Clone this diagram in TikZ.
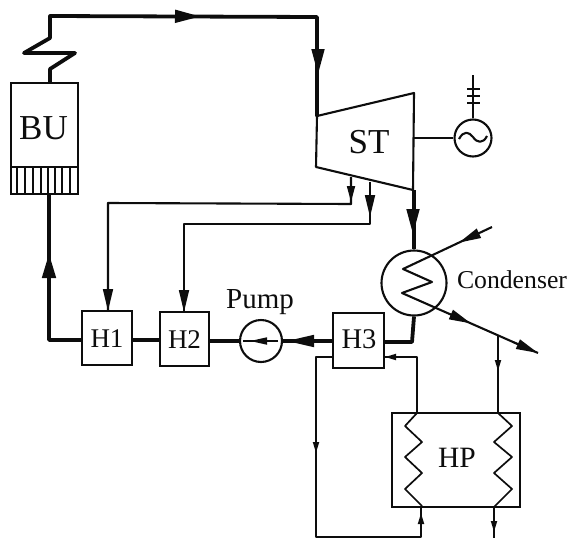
\documentclass[tikz,border=0pt]{standalone}
\usepackage{fontspec}
\setmainfont{Liberation Serif}
\usetikzlibrary{arrows.meta}
\definecolor{ink}{gray}{0.05}
\tikzset{
  every path/.style={color=ink},
  every node/.style={text=ink},
  thickpipe/.style={line width=3.8pt,line join=round},
  midpipe/.style={line width=2.1pt,line join=round},
  thinpipe/.style={line width=1.7pt,line join=round},
  box/.style={draw,line width=2.2pt,inner sep=0pt,rectangle},
  ring/.style={draw,line width=2.1pt,inner sep=0pt,circle},
  lab/.style={inner sep=0pt},
  bighead/.style={-{Triangle[length=25pt,width=13pt]}},
  midhead/.style={-{Triangle[length=22pt,width=10pt]}},
  smallhead/.style={-{Triangle[length=16pt,width=8pt]}},
  tinyhead/.style={-{Triangle[length=11pt,width=6pt]}},
}
\begin{document}
\begin{tikzpicture}[x=1pt,y=-1pt]
\useasboundingbox (0,0) rectangle (569,538);
% nodes
\node[box,minimum width=67pt,minimum height=111pt] (BU) at (44.5,138.5) {};
\node[lab,font=\fontsize{35}{35}\selectfont] (BUt) at (43.5,128) {BU};
\node[box,minimum width=50pt,minimum height=54pt] (H1) at (107,338) {};
\node[lab,font=\fontsize{27}{27}\selectfont] (H1t) at (107,339) {H1};
\node[box,minimum width=49pt,minimum height=54pt] (H2) at (184.5,339) {};
\node[lab,font=\fontsize{27}{27}\selectfont] (H2t) at (184.5,340) {H2};
\node[box,minimum width=51pt,minimum height=55pt] (H3) at (358.5,340.5) {};
\node[lab,font=\fontsize{28.5}{28.5}\selectfont] (H3t) at (359,339) {H3};
\node[box,minimum width=128pt,minimum height=94pt] (HP) at (456,460) {};
\node[lab,font=\fontsize{29.5}{29.5}\selectfont] (HPt) at (457,458) {HP};
\node[ring,minimum size=42pt] (P) at (261,341) {};
\node[lab,font=\fontsize{29}{29}\selectfont] (Pt) at (260,302) {Pump};
\node[ring,minimum size=37pt] (G) at (473,138) {};
\node[ring,minimum size=65pt] (C) at (414,283) {};
\node[lab,font=\fontsize{25.7}{25.7}\selectfont] (Ct) at (512,280) {Condenser};
\node[lab,font=\fontsize{35}{35}\selectfont] (STt) at (369,142) {ST};
% turbine
\coordinate (s1) at (317,116);
\coordinate (s2) at (414,93);
\coordinate (s3) at (413,190);
\coordinate (s4) at (316,167);
\draw[midpipe] (s1) -- (s2) -- (s3) -- (s4) -- cycle;
% boiler grate
\coordinate (gl) at (11,167);
\coordinate (gr) at (78,167);
\draw[midpipe] (gl) -- (gr);
\foreach \xx in {17,25,33,41,48,55,62,70} \draw[line width=1.3pt] (\xx,167) -- (\xx,194);
% live steam
\draw[thickpipe,line cap=round] (BU.north -| 50,0) -- (50,69) -- (75,53) -- (24,53) -- (50,38) -- (50,16) -- (317,17) -- (s1);
\coordinate (a1) at (175,16.3); \coordinate (a2) at (200,16.5);
\draw[thinpipe,bighead] (a1) -- (a2);
\coordinate (a3) at (318,48); \coordinate (a4) at (318,74);
\draw[thinpipe,bighead] (a3) -- (a4);
% generator
\draw[midpipe] (414,138) -- (G.west);
\coordinate (ant) at (473,75);
\draw[midpipe] (G.north) -- (ant);
\foreach \yy in {89,96,103} \draw[midpipe] (467,\yy) -- (480,\yy);
\draw[midpipe] (459,139) .. controls (464,130) and (469,132) .. (473,137) .. controls (477,143) and (483,144) .. (487,136);
% extractions
\coordinate (e1) at (351,177);
\coordinate (e2) at (370,182);
\coordinate (h1in) at (108,311);
\coordinate (h2in) at (184,312);
\draw[midpipe] (e1) -- (351,204) -- (108,203) -- (h1in);
\draw[midpipe] (e2) -- (370,224) -- (184,224) -- (h2in);
\coordinate (b1) at (351,182); \coordinate (b2) at (351,202);
\draw[thinpipe,smallhead] (b1) -- (b2);
\coordinate (b3) at (370,194); \coordinate (b4) at (370,217);
\draw[thinpipe,midhead] (b3) -- (b4);
\coordinate (b5) at (108,287);
\draw[thinpipe,midhead] (b5) -- (h1in);
\coordinate (b7) at (184,288);
\draw[thinpipe,midhead] (b7) -- (h2in);
% exhaust to condenser
\draw[thickpipe] (s3 -| C.north) -- (C.north);
\coordinate (b9) at (413,208); \coordinate (b10) at (413,234);
\draw[thinpipe,bighead] (b9) -- (b10);
% condenser coil
\coordinate (ci) at (492,227);
\coordinate (co) at (538,353);
\draw[midpipe,miter limit=10] (ci) -- (403,269) -- (432,282) -- (402,293) -- (co);
\coordinate (b11) at (479,233.2); \coordinate (b12) at (459,242.6);
\draw[thinpipe,midhead] (b11) -- (b12);
\coordinate (b13) at (449,313.7); \coordinate (b14) at (471,323.4);
\draw[thinpipe,midhead] (b13) -- (b14);
\coordinate (b15) at (513,342); 
\draw[thinpipe,midhead] (b15) -- (co);
% main condensate
\draw[thickpipe] (C.south) -- (412,342) -- (384,342);
\draw[thickpipe] (H3.west |- 0,341) -- (P.east);
\coordinate (b17) at (317,341); \coordinate (b18) at (287,341);
\draw[thinpipe,-{Triangle[length=27pt,width=12pt]}] (b17) -- (b18);
\draw[thickpipe] (P.west) -- (H2.east |- 0,341);
\draw[thickpipe] (H2.west |- 0,340) -- (H1.east |- 0,340);
\draw[thickpipe] (H1.west |- 0,340) -- (49,340) -- (BU.south -| 49,0);
\coordinate (b19) at (49,279); \coordinate (b20) at (49,254);
\draw[thinpipe,-{Triangle[length=24pt,width=14pt]}] (b19) -- (b20);
% pump inner arrow
\coordinate (p1) at (278,341); \coordinate (p2) at (243,341);
\draw[thinpipe] (p1) -- (p2);
\coordinate (p3) at (268,341); \coordinate (p4) at (250,341);
\draw[thinpipe,-{Triangle[length=17pt,width=7pt]}] (p3) -- (p4);
% heat pump loops
\coordinate (k1) at (417,413);
\draw[midpipe] (k1) -- (417,357) -- (H3.east |- 0,357);
\coordinate (b21) at (397,357); \coordinate (b22) at (385,357);
\draw[thinpipe,tinyhead] (b21) -- (b22);
\coordinate (k2) at (421,507);
\draw[midpipe] (H3.west |- 0,357) -- (316,357) -- (316,537) -- (421,537) -- (k2);
\coordinate (b23) at (316,441); \coordinate (b24) at (316,453);
\draw[thinpipe,tinyhead] (b23) -- (b24);
\coordinate (b25) at (421,526); \coordinate (b26) at (421,513);
\draw[thinpipe,tinyhead] (b25) -- (b26);
\coordinate (k3) at (498,413);
\coordinate (jn) at (498,335.3);
\draw[midpipe] (jn) -- (k3);
\coordinate (b27) at (498,360); \coordinate (b28) at (498,371);
\draw[thinpipe,tinyhead] (b27) -- (b28);
\coordinate (k4) at (494,507);
\draw[thinpipe] (k1) -- (405,426) -- (422,442) -- (405,457) -- (422,473) -- (405,489) -- (422,506);
\draw[thinpipe] (k3) -- (512,426) -- (494,442) -- (512,457) -- (494,473) -- (512,489) -- (k4);
\coordinate (k5) at (494,538);
\draw[midpipe] (k4) -- (k5);
\coordinate (b29) at (494,520); \coordinate (b30) at (494,532);
\draw[thinpipe,tinyhead] (b29) -- (b30);
\end{tikzpicture}
\end{document}
